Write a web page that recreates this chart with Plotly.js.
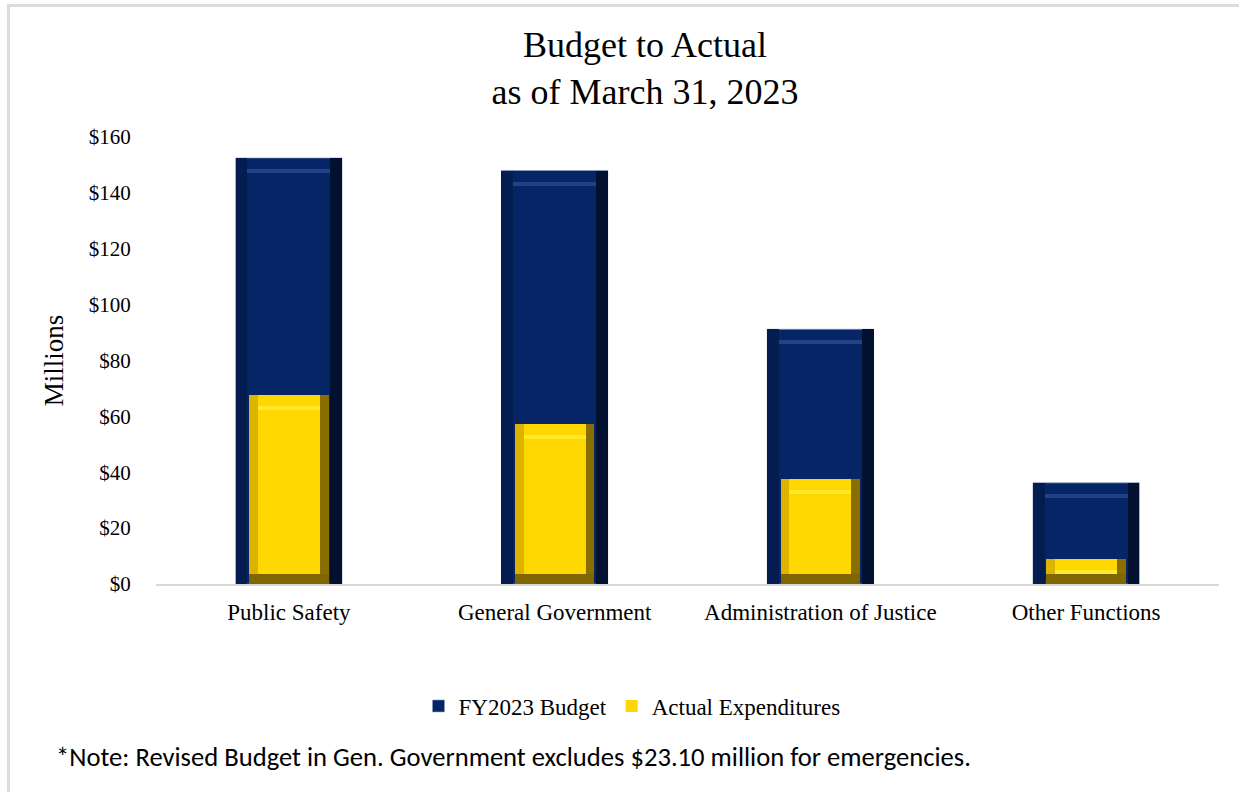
<!DOCTYPE html>
<html>
<head>
<meta charset="utf-8">
<script src="https://cdn.plot.ly/plotly-3.0.1.min.js"></script>
<style>
  html, body { margin: 0; padding: 0; background: #ffffff; }
  #wrap { position: relative; width: 1239px; height: 792px; overflow: hidden; }
  #chart { position: absolute; left: 0; top: 0; width: 1239px; height: 792px; }
  #frame { position: absolute; left: 7px; top: 4px; right: -10px; bottom: -10px;
           border-top: 3px solid #dcdcdc; border-left: 3px solid #dcdcdc; pointer-events: none; }
</style>
</head>
<body>
<div id="wrap">
  <div id="chart"></div>
  <div id="frame"></div>
</div>
<script>
// ---- data ----
const categories = ["Public Safety", "General Government", "Administration of Justice", "Other Functions"];
const budget = [152.5, 148.0, 91.2, 36.2];
const actual = [67.8, 57.3, 37.6, 9.1];
const seriesNames = ["FY2023 Budget", "Actual Expenditures"];
const yTickVals = [0, 20, 40, 60, 80, 100, 120, 140, 160];
const yTickText = ["$0", "$20", "$40", "$60", "$80", "$100", "$120", "$140", "$160"];
const noteText = "*Note: Revised Budget in Gen. Government excludes $23.10 million for emergencies.";

// ---- style ----
const serif = "Liberation Serif, Times New Roman, serif";
const blue = "#062566", blueDark = "#02112f", blueLeft = "#041c50", blueHi = "#2f4f93";
const gold = "#ffd700", goldDark = "#8a6f00", goldLeft = "#dcb400", goldHi = "#fff23a", goldBottom = "#806600";
const plotH = 447, yMax = 160;
const u = yMax / plotH; // data units per pixel

function bevelTraces(vals, w, left, right, hi, bottom) {
  const bw = w * 0.11;
  const out = [];
  const base = {type: "bar", x: categories, showlegend: false, hoverinfo: "skip"};
  out.push(Object.assign({}, base, {y: vals, width: bw, offset: -w / 2, marker: {color: left}}));
  out.push(Object.assign({}, base, {y: vals, width: bw, offset: w / 2 - bw, marker: {color: right}}));
  out.push(Object.assign({}, base, {
    y: vals.map(() => 4 * u), base: vals.map(v => v - 15 * u),
    width: w - 2 * bw, offset: -w / 2 + bw, marker: {color: hi, opacity: 0.7}
  }));
  if (bottom) {
    out.push(Object.assign({}, base, {
      y: vals.map(v => Math.min(v, 10 * u)), base: vals.map(() => 0),
      width: w, offset: -w / 2, marker: {color: bottom}
    }));
  }
  return out;
}

const wBlue = 0.40, wGold = 0.30;
const traces = [];
traces.push({type: "bar", name: seriesNames[0], x: categories, y: budget, width: wBlue,
  marker: {color: blue, line: {color: "#8fa0c0", width: 0.6}}, hovertemplate: "%{x}<br>$%{y}M<extra></extra>"});
bevelTraces(budget, wBlue, blueLeft, blueDark, blueHi, null).forEach(t => traces.push(t));
traces.push({type: "bar", name: seriesNames[1], x: categories, y: actual, width: wGold,
  marker: {color: gold}, hovertemplate: "%{x}<br>$%{y}M<extra></extra>"});
bevelTraces(actual, wGold, goldLeft, goldDark, goldHi, goldBottom).forEach(t => traces.push(t));

const layout = {
  width: 1239, height: 792,
  paper_bgcolor: "rgba(0,0,0,0)", plot_bgcolor: "#ffffff",
  margin: {l: 156, r: 20, t: 137, b: 208},
  barmode: "overlay", bargap: 0,
  font: {family: serif, color: "#000000"},
  title: {text: "Budget to Actual<br>as of March 31, 2023", font: {family: serif, size: 36, color: "#000"},
    x: 645 / 1239, xref: "container", xanchor: "center", y: 1 - 57 / 792, yref: "container", yanchor: "middle"},
  xaxis: {type: "category", showgrid: false, zeroline: false, showline: true, linecolor: "#d9d9d9", linewidth: 2,
    ticks: "outside", ticklen: 6, tickcolor: "rgba(0,0,0,0)", tickfont: {family: serif, size: 23, color: "#000"}},
  yaxis: {range: [0, 160], showgrid: false, zeroline: false, showline: false,
    tickvals: yTickVals, ticktext: yTickText, ticks: "outside", ticklen: 20, tickcolor: "rgba(0,0,0,0)",
    tickfont: {family: serif, size: 21, color: "#000"},
    title: {text: "Millions", font: {family: serif, size: 27, color: "#000"}, standoff: 17}},
  legend: {orientation: "h", xref: "container", yref: "container", x: 632 / 1239, xanchor: "center",
    y: 1 - 706 / 792, yanchor: "middle", font: {family: serif, size: 23, color: "#000"},
    traceorder: "normal", itemwidth: 30},
  annotations: [{text: noteText, xref: "paper", yref: "paper", x: (54 - 156) / 1063, y: (584 - 757) / 447,
    xanchor: "left", yanchor: "middle", showarrow: false,
    font: {family: "Carlito, Liberation Sans, Arial, sans-serif", size: 26.6, color: "#000"}}]
};

Plotly.newPlot("chart", traces, layout, {displayModeBar: false, staticPlot: true});
</script>
</body>
</html>
